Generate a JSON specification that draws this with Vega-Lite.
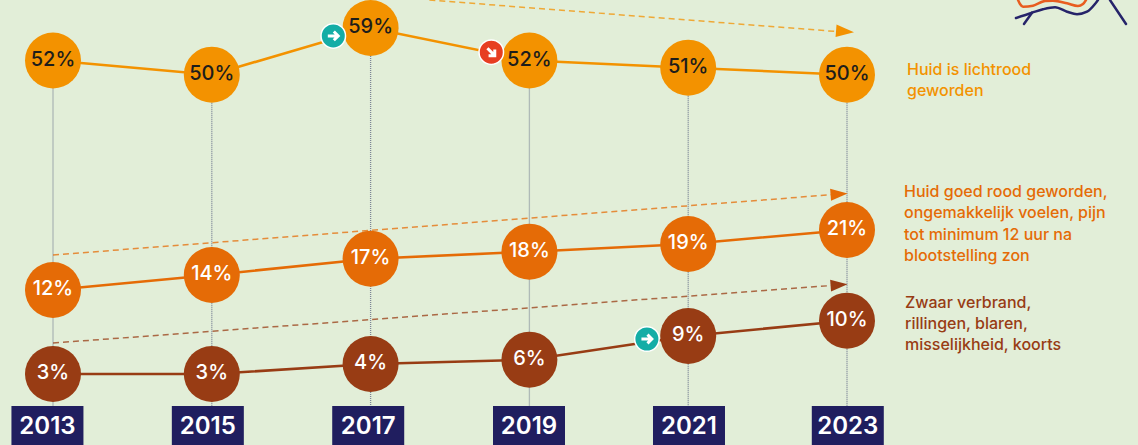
{
"$schema":"https://vega.github.io/schema/vega-lite/v6.json",
"width":1138,"height":445,"padding":0,
"autosize":{"type":"none"},
"background":"#E2EED8",
"config":{"view":{"stroke":null},"font":"Inter"},
"resolve":{"scale":{"color":"independent","fill":"independent"}},
"datasets":{
"shares":[
{"series":"licht","year":2013,"share":52,"label":"52%"},
{"series":"licht","year":2015,"share":50,"label":"50%"},
{"series":"licht","year":2017,"share":59,"label":"59%"},
{"series":"licht","year":2019,"share":52,"label":"52%"},
{"series":"licht","year":2021,"share":51,"label":"51%"},
{"series":"licht","year":2023,"share":50,"label":"50%"},
{"series":"goed","year":2013,"share":12,"label":"12%"},
{"series":"goed","year":2015,"share":14,"label":"14%"},
{"series":"goed","year":2017,"share":17,"label":"17%"},
{"series":"goed","year":2019,"share":18,"label":"18%"},
{"series":"goed","year":2021,"share":19,"label":"19%"},
{"series":"goed","year":2023,"share":21,"label":"21%"},
{"series":"zwaar","year":2013,"share":3,"label":"3%"},
{"series":"zwaar","year":2015,"share":3,"label":"3%"},
{"series":"zwaar","year":2017,"share":4,"label":"4%"},
{"series":"zwaar","year":2019,"share":6,"label":"6%"},
{"series":"zwaar","year":2021,"share":9,"label":"9%"},
{"series":"zwaar","year":2023,"share":10,"label":"10%"}
],
"years":[
{"year":2013,"tag":2012.93,"top":52,"low":1.65,"base":0,"mid":0.76},
{"year":2015,"tag":2014.95,"top":50,"low":1.65,"base":0,"mid":0.76},
{"year":2017,"tag":2016.97,"top":59,"low":1.65,"base":0,"mid":0.76},
{"year":2019,"tag":2018.995,"top":52,"low":1.65,"base":0,"mid":0.76},
{"year":2021,"tag":2021.01,"top":51,"low":1.65,"base":0,"mid":0.76},
{"year":2023,"tag":2023.01,"top":50,"low":1.65,"base":0,"mid":0.76}
],
"trends":[
{"series":"licht","year":2017.74,"share":65},
{"series":"licht","year":2022.86,"share":58.25},
{"series":"goed","year":2013,"share":17.53},
{"series":"goed","year":2022.9,"share":27.7},
{"series":"zwaar","year":2013,"share":8.11},
{"series":"zwaar","year":2022.9,"share":12.67}
],
"logo":[
{"part":"o","year":2025.154,"share":65},
{"part":"o","year":2025.179,"share":64.14},
{"part":"o","year":2025.217,"share":63.56},
{"part":"o","year":2025.343,"share":63.78},
{"part":"o","year":2025.494,"share":64.79},
{"part":"o","year":2025.594,"share":64.85},
{"part":"o","year":2025.771,"share":64.29},
{"part":"o","year":2025.909,"share":63.71},
{"part":"o","year":2025.972,"share":64.14},
{"part":"o","year":2026.01,"share":65},
{"part":"n1","year":2025.128,"share":61.14},
{"part":"n1","year":2025.33,"share":62.28},
{"part":"n1","year":2025.468,"share":63.01},
{"part":"n1","year":2025.62,"share":63.44},
{"part":"n1","year":2025.771,"share":62.49},
{"part":"n1","year":2025.897,"share":61.94},
{"part":"n1","year":2026.023,"share":62.49},
{"part":"n1","year":2026.123,"share":64.14},
{"part":"n1","year":2026.161,"share":65},
{"part":"n2","year":2025.229,"share":59.86},
{"part":"n2","year":2025.33,"share":62.28},
{"part":"n3","year":2026.312,"share":65},
{"part":"n3","year":2026.514,"share":59.86}
]
},
"encoding":{
"x":{"field":"year","type":"quantitative","axis":null,"scale":{"domain":[2012.3325,2026.665],"nice":false,"zero":false,"padding":0}},
"y":{"field":"share","type":"quantitative","axis":null,"scale":{
"domain":[0,3,4,6,9,10,12,14,17,18,19,21,50,51,52,59,65],
"range":[445,374,364,359.7,336,320.7,290,275,258.7,251.7,244,230,74.7,67.7,60.5,28,0],
"nice":false,"zero":false,"padding":0}}
},
"layer":[
{"data":{"name":"logo"},"mark":{"type":"line","interpolate":"monotone","strokeWidth":2.5,"strokeCap":"round","clip":true},
"encoding":{"detail":{"field":"part"},"color":{"field":"part","type":"nominal","legend":null,"scale":{"domain":["o","n1","n2","n3"],"range":["#E85D20","#26246A","#26246A","#26246A"]}}}},
{"data":{"name":"years"},"mark":{"type":"rule","stroke":"#7C8596","strokeWidth":1.3,"strokeDash":[1,1]},
"encoding":{"y":{"field":"top","type":"quantitative"},"y2":{"field":"base"}}},
{"data":{"name":"trends"},"mark":{"type":"line","strokeWidth":1.5,"strokeDash":[6,4],"opacity":0.75},
"encoding":{"color":{"field":"series","type":"nominal","legend":null,"scale":{"domain":["licht","goed","zwaar"],"range":["#F39200","#E56B06","#983C14"]}}}},
{"data":{"values":[{"series":"licht","year":2022.975,"share":58.25}]},"mark":{"type":"point","filled":true,"opacity":1,"shape":"M-1,-0.7L1,0L-1,0.7Z","size":324,"angle":4.4,"color":"#F39200"}},
{"data":{"values":[{"series":"goed","year":2022.9,"share":27.7}]},"mark":{"type":"point","filled":true,"opacity":1,"shape":"M-1,-0.7L1,0L-1,0.7Z","size":289,"angle":-4.5,"color":"#E56B06"}},
{"data":{"values":[{"series":"zwaar","year":2022.9,"share":12.67}]},"mark":{"type":"point","filled":true,"opacity":1,"shape":"M-1,-0.7L1,0L-1,0.7Z","size":289,"angle":-4.3,"color":"#983C14"}},
{"data":{"name":"shares"},"mark":{"type":"line","strokeWidth":2.6},
"encoding":{"color":{"field":"series","type":"nominal","legend":null,"scale":{"domain":["licht","goed","zwaar"],"range":["#F39200","#E56B06","#983C14"]}}}},
{"data":{"name":"shares"},"mark":{"type":"point","filled":true,"opacity":1,"size":3136,"shape":"circle"},
"encoding":{"color":{"field":"series","type":"nominal","legend":null,"scale":{"domain":["licht","goed","zwaar"],"range":["#F39200","#E56B06","#983C14"]}}}},
{"data":{"name":"shares"},"mark":{"type":"text","fontSize":20,"fontWeight":500,"align":"center","baseline":"middle","dy":-1},
"encoding":{"text":{"field":"label"},"color":{"field":"series","type":"nominal","legend":null,"scale":{"domain":["licht","goed","zwaar"],"range":["#1D1D1B","#FFFFFF","#FFFFFF"]}}}},
{"data":{"values":[{"year":2016.53,"share":57.3,"kind":"stijging"},{"year":2018.52,"share":53.8,"kind":"daling"},{"year":2020.48,"share":8.62,"kind":"stijging"}]},
"mark":{"type":"point","filled":true,"opacity":1,"size":600,"shape":"circle","stroke":"#FFFFFF","strokeWidth":1.5},
"encoding":{"fill":{"field":"kind","type":"nominal","legend":null,"scale":{"domain":["stijging","daling"],"range":["#14ADA6","#E73E22"]}}}},
{"data":{"values":[{"year":2016.53,"share":57.3},{"year":2020.48,"share":8.62}]},
"mark":{"type":"point","filled":false,"opacity":1,"stroke":"#FFFFFF","strokeWidth":3,"size":120,"shape":"M-1,0L0.9,0M0.1,-0.8L0.9,0L0.1,0.8"}},
{"data":{"values":[{"year":2018.52,"share":53.8}]},
"mark":{"type":"point","filled":false,"opacity":1,"stroke":"#FFFFFF","strokeWidth":3,"size":120,"angle":45,"shape":"M-1,0L0.9,0M0.1,-0.8L0.9,0L0.1,0.8"}},
{"data":{"name":"years"},"mark":{"type":"bar","size":72,"color":"#201E5F"},
"encoding":{"x":{"field":"tag","type":"quantitative"},"y":{"field":"low","type":"quantitative"},"y2":{"field":"base"}}},
{"data":{"name":"years"},"mark":{"type":"text","fontSize":24,"fontWeight":600,"color":"#FFFFFF","align":"center","baseline":"middle"},
"encoding":{"x":{"field":"tag","type":"quantitative"},"y":{"field":"mid","type":"quantitative"},"text":{"field":"year","type":"nominal"}}},
{"data":{"values":[{"year":2023,"share":50,"text":"Huid is lichtrood\ngeworden"}]},
"mark":{"type":"text","lineBreak":"\n","lineHeight":21,"fontSize":16,"fontWeight":500,"font":"Inter","align":"left","baseline":"middle","dx":60,"dy":-5,"color":"#F39200"},
"encoding":{"text":{"field":"text"}}},
{"data":{"values":[{"year":2023,"share":21,"text":"Huid goed rood geworden,\nongemakkelijk voelen, pijn\ntot minimum 12 uur na\nblootstelling zon"}]},
"mark":{"type":"text","lineBreak":"\n","lineHeight":21.3,"fontSize":16,"fontWeight":500,"font":"Inter","align":"left","baseline":"middle","dx":57,"dy":-38,"color":"#E56B06"},
"encoding":{"text":{"field":"text"}}},
{"data":{"values":[{"year":2023,"share":10,"text":"Zwaar verbrand,\nrillingen, blaren,\nmisselijkheid, koorts"}]},
"mark":{"type":"text","lineBreak":"\n","lineHeight":21.3,"fontSize":16,"fontWeight":500,"font":"Inter","align":"left","baseline":"middle","dx":58,"dy":-18,"color":"#983C14"},
"encoding":{"text":{"field":"text"}}}
]
}
